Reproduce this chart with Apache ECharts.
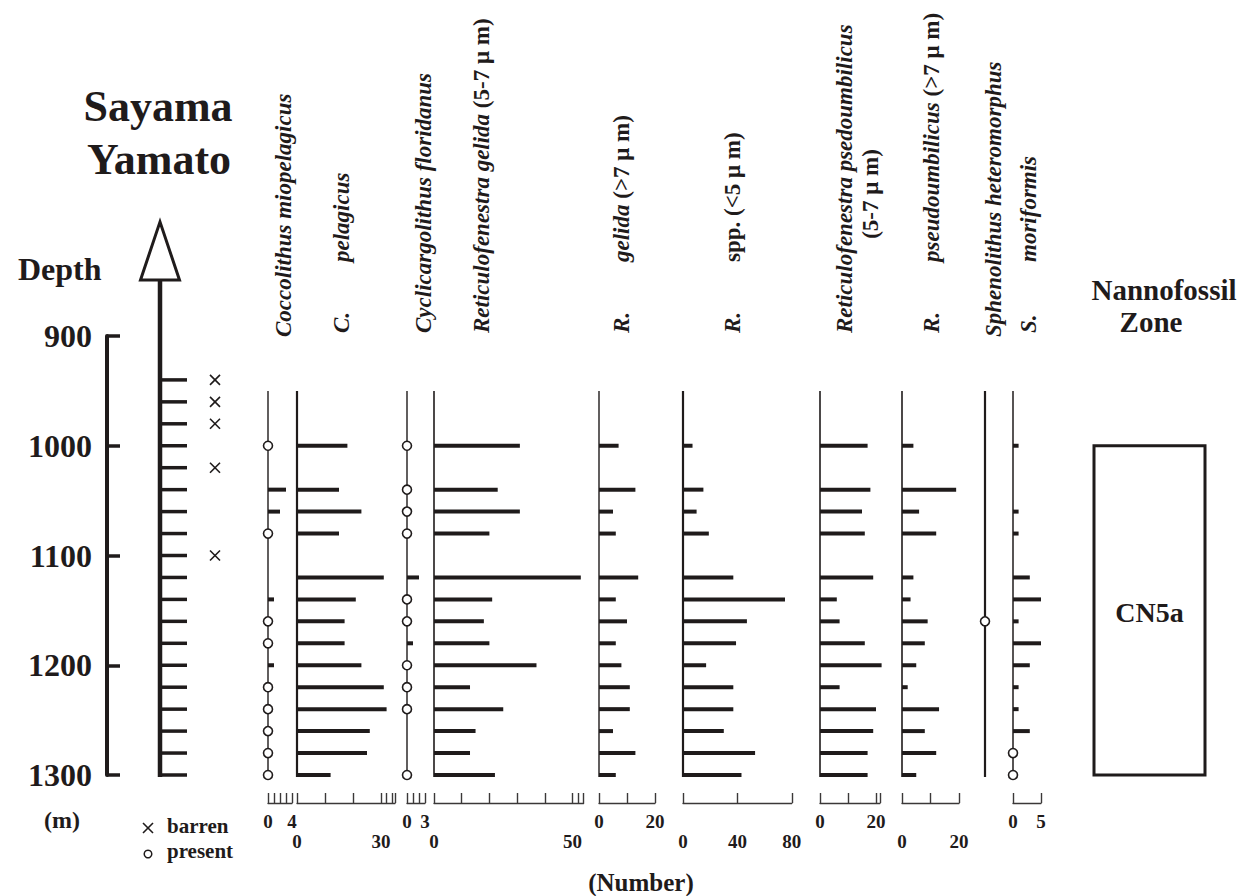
<!DOCTYPE html>
<html><head><meta charset="utf-8">
<script src="https://cdn.jsdelivr.net/npm/echarts@6/dist/echarts.min.js"></script>
<style>html,body{margin:0;padding:0;background:#fff}#c{width:1251px;height:896px}</style>
</head><body><div id="c"></div>
<script>
// ---------------- DATA ----------------
const depthTicks = [900, 1000, 1100, 1200, 1300];
const sampleDepths = [940, 960, 980, 1000, 1020, 1040, 1060, 1080, 1100, 1120, 1140, 1160, 1180, 1200, 1220, 1240, 1260, 1280, 1300];
const barrenDepths = [940, 960, 980, 1020, 1100];
const countDepths = [1000, 1040, 1060, 1080, 1120, 1140, 1160, 1180, 1200, 1220, 1240, 1260, 1280, 1300];

const cMiopelagicus        = [0, 3, 2, 0, 0, 1, 0, 0, 1, 0, 0, 0, 0, 0];
const cMiopelagicusPresent = [1000, 1080, 1160, 1180, 1220, 1240, 1260, 1280, 1300];
const cPelagicus           = [18, 15, 23, 15, 31, 21, 17, 17, 23, 31, 32, 26, 25, 12];
const cFloridanus          = [0, 0, 0, 0, 2, 0, 0, 1, 0, 0, 0, 0, 0, 0];
const cFloridanusPresent   = [1000, 1040, 1060, 1080, 1140, 1160, 1200, 1220, 1240, 1300];
const rGelida57            = [31, 23, 31, 20, 53, 21, 18, 20, 37, 13, 25, 15, 13, 22];
const rGelida7             = [7, 13, 5, 6, 14, 6, 10, 6, 8, 11, 11, 5, 13, 6];
const rSpp5                = [7, 15, 10, 19, 37, 75, 47, 39, 17, 37, 37, 30, 53, 43];
const rPseudo57            = [17, 18, 15, 16, 19, 6, 7, 16, 22, 7, 20, 19, 17, 17];
const rPseudo7             = [4, 19, 6, 12, 4, 3, 9, 8, 5, 2, 13, 8, 12, 5];
const sHeteromorphusPresent = [1160];
const sMoriformis          = [1, 0, 1, 1, 3, 5, 1, 5, 3, 1, 1, 3, 0, 0];
const sMoriformisPresent   = [1280, 1300];

const zoneNames   = ['CN5a'];
const zoneTops    = [1000];
const zoneBottoms = [1300];

const recordTop = 950;         // top of the sampled interval line
const arrowBaseDepth = 849;    // stratigraphic arrow (decoration)
const arrowTipDepth = 796;

// scale tick / label values per column
const ticksCMio = [0, 1, 2, 3, 4],  labelsCMio = [0, 4];
const ticksCPel = [0, 10, 20, 30, 32, 34, 35], labelsCPel = [0, 30];
const ticksCFlo = [0, 1, 2, 3],     labelsCFlo = [0, 3];
const ticksRG57 = [0, 10, 20, 30, 40, 50, 52, 54], labelsRG57 = [0, 50];
const ticksRG7  = [0, 10, 20],      labelsRG7 = [0, 20];
const ticksRSpp = [0, 40, 80],      labelsRSpp = [0, 40, 80];
const ticksRP57 = [0, 10, 20, 21.4], labelsRP57 = [0, 20];
const ticksRP7  = [0, 10, 20],      labelsRP7 = [0, 20];
const ticksSMor = [0, 5],           labelsSMor = [0, 5];

// ---------------- LAYOUT ----------------
const FONT = "'Liberation Serif','Times New Roman',serif";
const INK = '#1f1b1b';
const TOP = 336, H = 439;      // 900 m -> 336px, 1300 m -> 775px
const MA = 9, MB = 29;         // label margins for the two label rows

const columns = [
  {values: cMiopelagicus, present: cMiopelagicusPresent, left: 268, max: 4,  ppu: 6,    ticks: ticksCMio, labels: labelsCMio, margin: MA, lw: 1.4},
  {values: cPelagicus,    present: [],                   left: 297, max: 35, ppu: 2.8,  ticks: ticksCPel, labels: labelsCPel, margin: MB, lw: 2.2},
  {values: cFloridanus,   present: cFloridanusPresent,   left: 407, max: 3,  ppu: 6,    ticks: ticksCFlo, labels: labelsCFlo, margin: MA, lw: 1.4},
  {values: rGelida57,     present: [],                   left: 434, max: 54, ppu: 2.77, ticks: ticksRG57, labels: labelsRG57, margin: MB, lw: 1.6},
  {values: rGelida7,      present: [],                   left: 599, max: 20, ppu: 2.8,  ticks: ticksRG7,  labels: labelsRG7,  margin: MA, lw: 1.4},
  {values: rSpp5,         present: [],                   left: 683, max: 80, ppu: 1.36, ticks: ticksRSpp, labels: labelsRSpp, margin: MB, lw: 2.2},
  {values: rPseudo57,     present: [],                   left: 820, max: 21.4, ppu: 2.8, ticks: ticksRP57, labels: labelsRP57, margin: MA, lw: 1.6},
  {values: rPseudo7,      present: [],                   left: 902, max: 20, ppu: 2.85, ticks: ticksRP7,  labels: labelsRP7,  margin: MB, lw: 1.6},
  {values: null,          present: sHeteromorphusPresent, left: 985, max: 5, ppu: 5.6,  ticks: null,      labels: null,       margin: MA, lw: 2.2},
  {values: sMoriformis,   present: sMoriformisPresent,   left: 1013, max: 5, ppu: 5.6,  ticks: ticksSMor, labels: labelsSMor, margin: MA, lw: 1.5}
];

const grids = [], xAxes = [], yAxes = [], series = [];
function depthY(extra) {
  return Object.assign({type: 'value', min: 900, max: 1300, inverse: true, show: false, splitLine: {show: false}}, extra || {});
}

// grid 0: depth axis
grids.push({left: 107, width: 10, top: TOP, height: H, outerBoundsMode: 'none'});
xAxes.push({gridIndex: 0, type: 'value', show: false, min: 0, max: 1});
yAxes.push(depthY({gridIndex: 0, show: true, position: 'left', interval: 100,
  axisLine: {show: true, lineStyle: {color: INK, width: 4}},
  axisTick: {show: true, inside: true, length: 13, lineStyle: {color: INK, width: 3.5}},
  axisLabel: {show: true, margin: 15, color: INK, fontFamily: FONT, fontWeight: 'bold', fontSize: 32,
    customValues: depthTicks, formatter: function (v) { return String(v); }}
}));

// grid 1: sample column with arrow
grids.push({left: 160, width: 60, top: TOP, height: H, outerBoundsMode: 'none'});
xAxes.push({gridIndex: 1, type: 'value', show: false, min: 0, max: 60});
yAxes.push(depthY({gridIndex: 1}));
series.push({
  type: 'custom', xAxisIndex: 1, yAxisIndex: 1, clip: false, silent: true, z: 3,
  data: [[0, arrowBaseDepth, 1300, arrowTipDepth]],
  renderItem: function (p, api) {
    const a = api.coord([0, api.value(1)]);
    const b = api.coord([0, api.value(2)]);
    const t = api.coord([0, api.value(3)]);
    return {type: 'group', children: [
      {type: 'line', shape: {x1: a[0], y1: a[1], x2: b[0], y2: b[1] + 2}, style: {stroke: INK, lineWidth: 4.5}},
      {type: 'polygon', shape: {points: [[t[0], t[1]], [a[0] - 19.5, a[1]], [a[0] + 19.5, a[1]]]},
        style: {fill: '#fff', stroke: INK, lineWidth: 3, lineJoin: 'miter'}}
    ]};
  }
});
series.push({
  type: 'custom', xAxisIndex: 1, yAxisIndex: 1, clip: false, silent: true, z: 2,
  data: sampleDepths.map(d => [0, d]),
  renderItem: function (p, api) {
    const a = api.coord([0, api.value(1)]);
    const b = api.coord([27, api.value(1)]);
    return {type: 'line', shape: {x1: a[0], y1: a[1], x2: b[0], y2: b[1]}, style: {stroke: INK, lineWidth: 3.5}};
  }
});
series.push({
  type: 'custom', xAxisIndex: 1, yAxisIndex: 1, clip: false, silent: true,
  data: barrenDepths.map(d => [55, d]),
  renderItem: function (p, api) {
    const c = api.coord([api.value(0), api.value(1)]);
    const s = 5;
    return {type: 'group', children: [
      {type: 'line', shape: {x1: c[0] - s, y1: c[1] - s, x2: c[0] + s, y2: c[1] + s}, style: {stroke: INK, lineWidth: 1.6}},
      {type: 'line', shape: {x1: c[0] - s, y1: c[1] + s, x2: c[0] + s, y2: c[1] - s}, style: {stroke: INK, lineWidth: 1.6}}
    ]};
  }
});

// species columns
columns.forEach(function (col, k) {
  const gi = 2 + k;
  grids.push({left: col.left, width: col.max * col.ppu, top: TOP, height: H, outerBoundsMode: 'none'});
  const hasScale = !!col.ticks;
  xAxes.push({gridIndex: gi, type: 'value', min: 0, max: col.max, show: hasScale, position: 'bottom', offset: 28,
    splitLine: {show: false},
    axisLine: {show: true, onZero: false, lineStyle: {color: '#3b3838', width: 1.4}},
    axisTick: {show: true, inside: true, length: 10, lineStyle: {color: '#3b3838', width: 1.4},
      customValues: col.ticks || []},
    axisLabel: {show: true, margin: col.margin, color: INK, fontFamily: FONT, fontWeight: 'bold', fontSize: 19,
      customValues: col.labels || []}
  });
  yAxes.push(depthY({gridIndex: gi}));
  // baseline of the column
  series.push({
    type: 'custom', xAxisIndex: gi, yAxisIndex: gi, clip: false, silent: true, z: 2,
    data: [[0, recordTop, 1300]],
    renderItem: function (p, api) {
      const a = api.coord([0, api.value(1)]);
      const b = api.coord([0, api.value(2)]);
      return {type: 'line', shape: {x1: a[0], y1: a[1], x2: b[0], y2: b[1] + 2}, style: {stroke: INK, lineWidth: col.lw}};
    }
  });
  if (col.values) {
    series.push({
      type: 'custom', xAxisIndex: gi, yAxisIndex: gi, clip: false, silent: true, z: 3,
      data: countDepths.map((d, i) => [col.values[i], d]).filter(v => v[0] > 0),
      renderItem: function (p, api) {
        const a = api.coord([0, api.value(1)]);
        const b = api.coord([api.value(0), api.value(1)]);
        return {type: 'line', shape: {x1: a[0], y1: a[1], x2: b[0], y2: b[1]}, style: {stroke: INK, lineWidth: 4, lineCap: 'butt'}};
      }
    });
  }
  if (col.present && col.present.length) {
    series.push({
      type: 'scatter', xAxisIndex: gi, yAxisIndex: gi, silent: true, z: 5,
      symbol: 'circle', symbolSize: 9,
      itemStyle: {color: '#fff', borderColor: INK, borderWidth: 1.6, opacity: 1},
      data: col.present.map(d => [0, d])
    });
  }
});

// zone column
const zg = grids.length;
grids.push({left: 1094, width: 111, top: TOP, height: H, outerBoundsMode: 'none'});
xAxes.push({gridIndex: zg, type: 'value', show: false, min: 0, max: 1});
yAxes.push(depthY({gridIndex: zg}));
series.push({
  type: 'custom', xAxisIndex: zg, yAxisIndex: zg, clip: false, silent: true,
  data: zoneNames.map((n, i) => [zoneTops[i], zoneBottoms[i], n]),
  renderItem: function (p, api) {
    const a = api.coord([0, api.value(0)]);
    const b = api.coord([1, api.value(1)]);
    return {type: 'group', children: [
      {type: 'rect', shape: {x: a[0], y: a[1], width: b[0] - a[0], height: b[1] - a[1]},
        style: {fill: 'none', stroke: INK, lineWidth: 3}},
      {type: 'text', x: (a[0] + b[0]) / 2, y: (a[1] + b[1]) / 2 + 2,
        style: {text: zoneNames[p.dataIndex], fill: INK, fontFamily: FONT, fontWeight: 'bold', fontSize: 28,
          align: 'center', verticalAlign: 'middle'}}
    ]};
  }
});

// ---------------- TEXT ----------------
function plain(txt, x, y, size, align, extra) {
  return {type: 'text', x: x, y: y, silent: true,
    style: Object.assign({text: txt, fill: INK, fontFamily: FONT, fontWeight: 'bold', fontSize: size,
      align: align || 'center', verticalAlign: 'middle'}, extra || {})};
}
const rich = {
  i: {fill: INK, fontFamily: FONT, fontSize: 23, fontStyle: 'italic', fontWeight: 'bold'},
  n: {fill: INK, fontFamily: FONT, fontSize: 23, fontStyle: 'normal', fontWeight: 'bold'}
};
function vert(txt, x, y, align) {
  return {type: 'text', x: x, y: y, rotation: Math.PI / 2, silent: true,
    style: {text: txt, rich: rich, fill: INK, fontFamily: FONT, fontSize: 23, fontWeight: 'bold',
      align: align || 'left', verticalAlign: 'middle'}};
}
const graphic = [
  plain('Sayama', 158, 106, 44),
  plain('Yamato', 159, 159, 44),
  plain('Depth', 18, 269, 32, 'left'),
  plain('(m)', 62, 820, 24),
  plain('barren', 167, 826, 21, 'left'),
  plain('present', 167, 851, 21, 'left'),
  plain('(Number)', 641, 882, 25),
  plain('Nannofossil', 1164, 290, 29),
  plain('Zone', 1151, 322, 29),
  // legend keys
  {type: 'line', silent: true, shape: {x1: 143, y1: 823, x2: 153, y2: 833}, style: {stroke: INK, lineWidth: 1.6}},
  {type: 'line', silent: true, shape: {x1: 143, y1: 833, x2: 153, y2: 823}, style: {stroke: INK, lineWidth: 1.6}},
  {type: 'circle', silent: true, shape: {cx: 148, cy: 854, r: 3.8}, style: {fill: '#fff', stroke: INK, lineWidth: 1.5}},
  // column headers
  vert('{i|Coccolithus miopelagicus}', 283, 337),
  vert('{i|C.}', 341, 333),
  vert('{i|pelagicus}', 341, 262),
  vert('{i|Cyclicargolithus floridanus}', 423, 333),
  vert('{i|Reticulofenestra gelida} {n|(5-7 μ m)}', 481, 333),
  vert('{i|R.}', 621, 333),
  vert('{i|gelida} {n|(>7 μ m)}', 621, 262),
  vert('{i|R.}', 732, 333),
  vert('{n|spp. (<5 μ m)}', 732, 262),
  vert('{i|Reticulofenestra psedoumbilicus}', 844, 333),
  vert('{n|(5-7 μ m)}', 870, 194, 'center'),
  vert('{i|R.}', 931, 333),
  vert('{i|pseudoumbilicus} {n|(>7 μ m)}', 931, 262),
  vert('{i|Sphenolithus heteromorphus}', 993, 337),
  vert('{i|S.}', 1028, 333),
  vert('{i|moriformis}', 1028, 262)
];

const chart = echarts.init(document.getElementById('c'), null, {renderer: 'svg'});
chart.setOption({
  animation: false,
  backgroundColor: '#fff',
  grid: grids, xAxis: xAxes, yAxis: yAxes, series: series, graphic: graphic
});
</script>
</body></html>
